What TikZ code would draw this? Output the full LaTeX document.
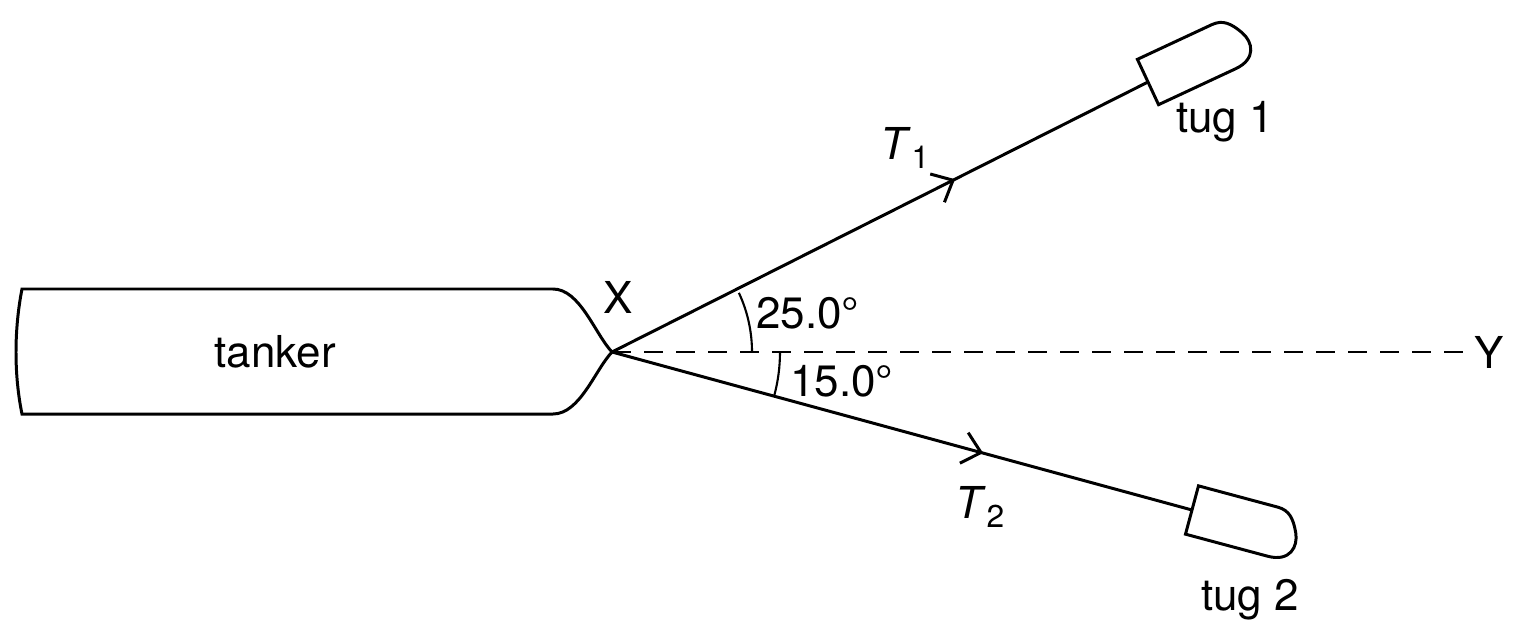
\documentclass[tikz,border=0pt]{standalone}
\usepackage{fontspec}
\setmainfont{TeX Gyre Heros}
\usetikzlibrary{arrows.meta,decorations.markings}
\begin{document}
\begin{tikzpicture}[x=0.01cm,y=-0.01cm,line width=0.85pt,
  lbl/.style={font=\fontsize{12.5}{14}\selectfont,inner sep=0pt},
  midarrow/.style={postaction={decorate},decoration={markings,mark=at position #1 with {\arrow{Straight Barb[length=5pt,width=9pt,line width=0.85pt]}}}}]
\useasboundingbox (0,0) rectangle (1520,639);
\coordinate (X) at (612,352);
% tanker
\draw (553,289) -- (22,289) .. controls (14,330) and (14,375) .. (22,414) -- (553,414)
  .. controls (580,414) and (595,370) .. (X) .. controls (595,334) and (580,289) .. cycle;
\node[lbl] (tk) at (275,352) {tanker};
\node[lbl] (xl) at (618,297) {X};
\coordinate (Ye) at (1465,352);
\node[lbl,anchor=west] (yl) at (1473,352) {Y};
\draw[dash pattern=on 5.5pt off 3.6pt] (X) -- (Ye);
% tugs
\coordinate (t1) at (1148,82);
\coordinate (t2) at (1192,510);
\draw[midarrow=0.64] (X) -- (t1);
\draw[midarrow=0.64] (X) -- (t2);
\begin{scope}[shift={(t1)},x={(0.00906cm,0.00423cm)},y={(0.00423cm,-0.00906cm)}]
\draw (0,-25) -- (0,25) -- (85,25) .. controls (108,25) and (112,8) .. (106,-5) .. controls (100,-18) and (94,-25) .. (82,-25) -- cycle;
\end{scope}
\begin{scope}[shift={(t2)},x={(0.00966cm,-0.00259cm)},y={(0.00259cm,0.00966cm)}]
\draw (0,-25) -- (0,25) -- (82,25) .. controls (94,25) and (100,18) .. (106,5) .. controls (112,-8) and (108,-25) .. (85,-25) -- cycle;
\end{scope}
\node[lbl] (tg1) at (1225,122) {tug 1};
\node[lbl] (tg2) at (1250,600) {tug 2};
\node[lbl] (T1) at (905,148) {\textit{T}\raisebox{-0.35ex}{\fontsize{9}{10}\selectfont 1}};
\node[lbl] (T2) at (980,507) {\textit{T}\raisebox{-0.35ex}{\fontsize{9}{10}\selectfont 2}};
% angles
\draw[line width=0.6pt] ([shift={(0:140)}]X) arc[start angle=0,end angle=-25,radius=140];
\draw[line width=0.6pt] ([shift={(0:168)}]X) arc[start angle=0,end angle=15,radius=168];
\node[lbl] (a1) at (808,313) {25.0°};
\node[lbl] (a2) at (842,381) {15.0°};
\end{tikzpicture}
\end{document}
